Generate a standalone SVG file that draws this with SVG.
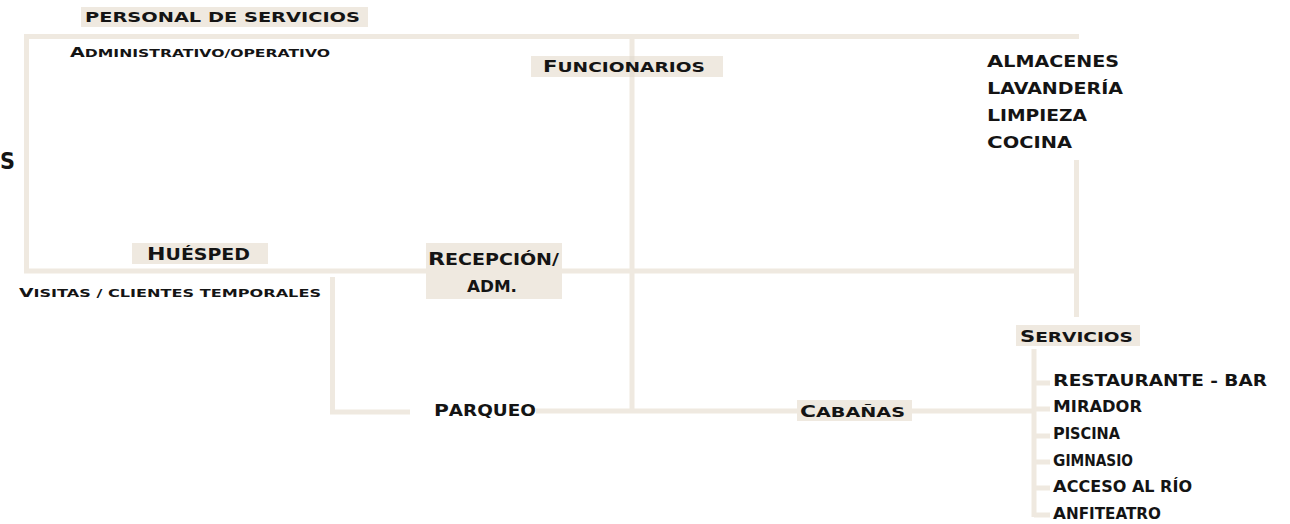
<svg xmlns="http://www.w3.org/2000/svg" width="1290" height="524" viewBox="0 0 1290 524">
<style>
.bg{fill:#ffffff}
.box{fill:#efe9e0}
.ln{fill:none;stroke:#efe9e0;stroke-width:5;stroke-linejoin:miter}
.t{font-family:"DejaVu Sans","Liberation Sans",sans-serif;font-weight:bold;fill:#141414;text-transform:uppercase}
</style>
<rect class="bg" x="0" y="0" width="1290" height="524"/>
<g id="connectors">
<path class="ln" d="M1079,36.5 H26.5 V271 H426"/>
<path class="ln" d="M562,271 H1076.5"/>
<path class="ln" d="M1076.5,160 V317"/>
<path class="ln" d="M632,36.5 V411"/>
<path class="ln" d="M332.5,277 V412 H410"/>
<path class="ln" d="M536,411 H797"/>
<path class="ln" d="M912,411 H1034"/>
<path class="ln" d="M1034,349 V517"/>
<path class="ln" d="M1034,383 H1050 M1034,409 H1050 M1034,436 H1050 M1034,462 H1050 M1034,488 H1050 M1034,515 H1050"/>
</g>
<g id="personal">
<rect class="box" x="81" y="7" width="287" height="20"/>
<text class="t" x="85" y="22" font-size="13.5" textLength="275" lengthAdjust="spacingAndGlyphs">personal de servicios</text>
</g>
<g id="administrativo">
<text class="t" x="70" y="57" font-size="11" textLength="260" lengthAdjust="spacingAndGlyphs"><tspan font-size="13.5">A</tspan>dministrativo/operativo</text>
</g>
<g id="funcionarios">
<rect class="box" x="531" y="56" width="192" height="21"/>
<path class="ln" d="M632,56 V77" style="stroke:#e6dfd4"/>
<text class="t" x="543" y="71.5" font-size="14.5" textLength="162" lengthAdjust="spacingAndGlyphs"><tspan font-size="16.5">F</tspan>uncionarios</text>
</g>
<g id="almacenes">
<text class="t" x="987" y="66.5" font-size="15" textLength="132" lengthAdjust="spacingAndGlyphs"><tspan font-size="16.5">A</tspan>lmacenes</text>
<text class="t" x="987" y="93.5" font-size="15" textLength="136" lengthAdjust="spacingAndGlyphs"><tspan font-size="16.5">L</tspan>avandería</text>
<text class="t" x="987" y="120.5" font-size="15" textLength="100" lengthAdjust="spacingAndGlyphs"><tspan font-size="16.5">L</tspan>impieza</text>
<text class="t" x="987" y="147.5" font-size="15" textLength="85" lengthAdjust="spacingAndGlyphs"><tspan font-size="16.5">C</tspan>ocina</text>
</g>
<g id="s-label">
<text class="t" x="0" y="169" font-size="23" textLength="15" lengthAdjust="spacingAndGlyphs">S</text>
</g>
<g id="huesped">
<rect class="box" x="132" y="243" width="136" height="21"/>
<text class="t" x="147" y="260" font-size="15" textLength="103" lengthAdjust="spacingAndGlyphs"><tspan font-size="17.5">H</tspan>uésped</text>
</g>
<g id="visitas">
<text class="t" x="19" y="297" font-size="11" textLength="302" lengthAdjust="spacingAndGlyphs"><tspan font-size="12.8">V</tspan>isitas / clientes temporales</text>
</g>
<g id="recepcion">
<rect class="box" x="426" y="243" width="136" height="56"/>
<text class="t" x="428" y="265" font-size="15" textLength="131" lengthAdjust="spacingAndGlyphs"><tspan font-size="17.5">R</tspan>ecepción/</text>
<text class="t" x="467" y="292" font-size="15" textLength="50" lengthAdjust="spacingAndGlyphs">adm.</text>
</g>
<g id="parqueo">
<text class="t" x="434" y="416" font-size="15" textLength="102" lengthAdjust="spacingAndGlyphs"><tspan font-size="16.5">P</tspan>arqueo</text>
</g>
<g id="cabanas">
<rect class="box" x="797" y="400" width="115" height="21"/>
<text class="t" x="800" y="417" font-size="14.5" textLength="105" lengthAdjust="spacingAndGlyphs"><tspan font-size="16.5">C</tspan>abañas</text>
</g>
<g id="servicios">
<rect class="box" x="1016" y="325" width="124" height="21"/>
<text class="t" x="1020" y="342" font-size="14.5" textLength="113" lengthAdjust="spacingAndGlyphs"><tspan font-size="16.5">S</tspan>ervicios</text>
</g>
<g id="servicios-items">
<text class="t" x="1053" y="385.5" font-size="15" textLength="214" lengthAdjust="spacingAndGlyphs"><tspan font-size="16.5">R</tspan>estaurante - bar</text>
<text class="t" x="1053" y="412" font-size="15" textLength="89" lengthAdjust="spacingAndGlyphs"><tspan font-size="16.5">M</tspan>irador</text>
<text class="t" x="1053" y="439" font-size="15" textLength="67" lengthAdjust="spacingAndGlyphs"><tspan font-size="16.5">P</tspan>iscina</text>
<text class="t" x="1053" y="465.5" font-size="15" textLength="80" lengthAdjust="spacingAndGlyphs"><tspan font-size="16.5">G</tspan>imnasio</text>
<text class="t" x="1053" y="492" font-size="15" textLength="139" lengthAdjust="spacingAndGlyphs"><tspan font-size="16.5">A</tspan>cceso al río</text>
<text class="t" x="1053" y="519" font-size="15" textLength="108" lengthAdjust="spacingAndGlyphs"><tspan font-size="16.5">A</tspan>nfiteatro</text>
</g>
</svg>
